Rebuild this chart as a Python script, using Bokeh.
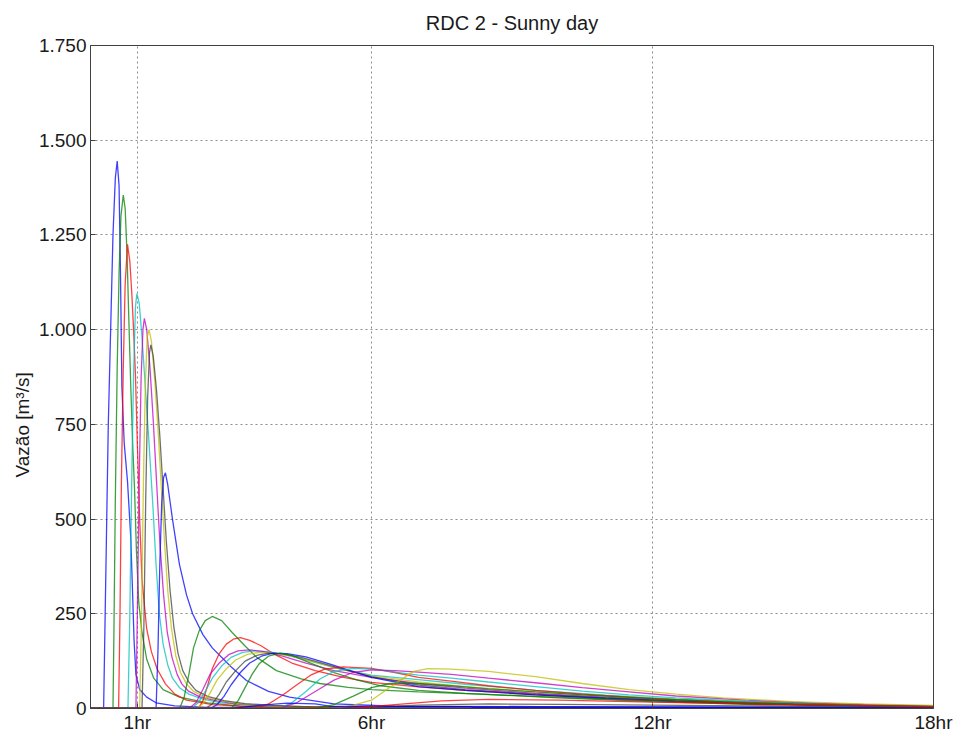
from bokeh.plotting import figure
from bokeh.models import FixedTicker, Range1d, Title
from bokeh.embed import file_html
from bokeh.resources import INLINE

# Outflow hydrographs, (hour, flow in m3/s) pairs, in plotting order
HYD_01 = [(0, 0), (0.28, 0), (0.30, 150), (0.34, 450), (0.38, 750), (0.43, 1000), (0.48, 1250), (0.53, 1400),
          (0.57, 1445), (0.61, 1380), (0.64, 1150), (0.67, 850), (0.72, 700), (0.79, 600), (0.86, 450), (0.90, 300),
          (0.93, 180), (0.97, 90), (1.05, 50), (1.2, 30), (1.4, 15), (1.8, 7), (2.5, 3), (6, 2), (18, 1)]
HYD_02 = [(0, 0), (0.48, 0), (0.50, 200), (0.53, 550), (0.57, 900), (0.61, 1150), (0.65, 1300), (0.70, 1355),
          (0.74, 1320), (0.78, 1200), (0.82, 1020), (0.86, 850), (0.90, 700), (0.94, 580), (0.98, 420), (1.03, 280),
          (1.1, 200), (1.2, 130), (1.35, 80), (1.55, 50), (1.9, 30), (2.5, 15), (3.2, 6), (8, 3), (18, 2)]
HYD_03 = [(0, 0), (0.60, 0), (0.63, 250), (0.66, 600), (0.70, 900), (0.74, 1120), (0.79, 1225), (0.84, 1180),
          (0.88, 1100), (0.92, 1000), (0.96, 880), (1.00, 700), (1.05, 500), (1.10, 340), (1.20, 210), (1.30, 150),
          (1.42, 105), (1.6, 65), (1.8, 38), (2.05, 22), (2.6, 10), (3.4, 5), (9, 3), (18, 2)]
HYD_04 = [(0, 0), (0.80, 0), (0.84, 250), (0.88, 600), (0.92, 880), (0.96, 1060), (0.99, 1095), (1.04, 1070),
          (1.10, 980), (1.17, 850), (1.25, 700), (1.33, 540), (1.40, 380), (1.47, 250), (1.55, 170), (1.65, 115),
          (1.75, 80), (1.9, 55), (2.1, 38), (2.4, 25), (2.8, 15), (3.4, 8), (4.2, 4), (10, 3), (18, 2)]
HYD_05 = [(0, 0), (0.97, 0), (1.00, 250), (1.04, 600), (1.08, 870), (1.12, 1000), (1.15, 1030), (1.20, 1000),
          (1.27, 900), (1.34, 760), (1.41, 600), (1.48, 440), (1.56, 300), (1.64, 200), (1.74, 135), (1.85, 90),
          (1.95, 65), (2.1, 45), (2.35, 30), (2.7, 20), (3.1, 12), (3.7, 7), (4.5, 4), (11, 3), (18, 2)]
HYD_06 = [(0, 0), (1.05, 0), (1.09, 250), (1.13, 600), (1.17, 850), (1.21, 980), (1.25, 1000), (1.30, 970),
          (1.37, 870), (1.44, 740), (1.51, 590), (1.58, 440), (1.65, 310), (1.73, 210), (1.82, 140), (1.92, 95),
          (2.05, 65), (2.2, 45), (2.45, 30), (2.8, 20), (3.2, 12), (3.8, 7), (4.6, 4), (12, 3), (18, 2)]
HYD_07 = [(0, 0), (1.10, 0), (1.14, 220), (1.18, 560), (1.22, 820), (1.26, 940), (1.29, 960), (1.34, 930),
          (1.41, 840), (1.48, 720), (1.55, 580), (1.62, 440), (1.70, 310), (1.78, 215), (1.87, 145), (1.97, 100),
          (2.1, 70), (2.25, 48), (2.5, 32), (2.85, 21), (3.3, 13), (3.9, 8), (4.7, 4), (13, 3), (18, 2)]
HYD_08 = [(0, 0), (1.40, 0), (1.44, 150), (1.48, 380), (1.52, 540), (1.56, 610), (1.60, 622), (1.65, 590),
          (1.75, 500), (1.90, 380), (2.05, 300), (2.18, 250), (2.40, 195), (2.60, 160), (3.00, 110), (3.33, 74),
          (3.8, 45), (4.25, 30), (5.2, 12), (6.5, 6), (9.6, 5), (18, 2)]
HYD_09 = [(0, 0), (1.90, 0), (2.00, 30), (2.10, 90), (2.20, 160), (2.32, 205), (2.45, 232), (2.60, 243),
          (2.80, 232), (3.03, 200), (3.30, 165), (3.55, 135), (3.97, 100), (4.5, 78), (4.9, 66), (5.5, 56),
          (6.0, 50), (7.0, 44), (8.3, 38), (10, 28), (12, 18), (14, 11), (16, 7), (18, 4)]
HYD_10 = [(0, 0), (2.30, 0), (2.40, 20), (2.50, 60), (2.60, 105), (2.75, 145), (2.90, 170), (3.05, 183),
          (3.20, 187), (3.40, 180), (3.65, 165), (3.90, 145), (4.3, 120), (4.8, 100), (5.4, 82), (6.0, 69),
          (7.0, 57), (8.0, 48), (9.5, 36), (11, 26), (12.5, 19), (14.5, 12), (16.5, 7), (18, 4)]
HYD_11 = [(0, 0), (2.15, 0), (2.3, 15), (2.45, 45), (2.6, 80), (2.8, 112), (3.0, 135), (3.25, 148), (3.5, 152),
          (3.8, 150), (4.2, 140), (4.7, 125), (5.3, 105), (6.0, 88), (7.0, 76), (8.0, 64), (9.5, 48), (11, 35),
          (12.5, 25), (14, 18), (16, 11), (18, 6)]
HYD_12 = [(0, 0), (2.10, 0), (2.25, 15), (2.4, 50), (2.55, 90), (2.75, 120), (2.95, 142), (3.15, 152), (3.4, 155),
          (3.7, 150), (4.1, 138), (4.6, 120), (5.2, 100), (6.0, 82), (7.0, 66), (8.0, 54), (9.5, 40), (11, 30),
          (12.5, 22), (14, 15), (16, 9), (18, 5)]
HYD_13 = [(0, 0), (2.25, 0), (2.4, 12), (2.55, 40), (2.7, 75), (2.9, 105), (3.1, 128), (3.35, 143), (3.6, 148),
          (3.9, 146), (4.3, 138), (4.8, 122), (5.4, 102), (6.0, 86), (7.0, 70), (8.0, 58), (9.5, 44), (11, 33),
          (12.5, 24), (14, 17), (16, 10), (18, 6)]
HYD_14 = [(0, 0), (2.45, 0), (2.6, 12), (2.75, 38), (2.9, 70), (3.1, 100), (3.3, 125), (3.55, 140), (3.8, 146),
          (4.1, 144), (4.5, 135), (5.0, 118), (5.5, 100), (6.0, 84), (7.0, 62), (8.0, 50), (9.5, 38), (11, 28),
          (12.5, 20), (14, 14), (16, 9), (18, 5)]
HYD_15 = [(0, 0), (2.55, 0), (2.7, 10), (2.85, 32), (3.0, 62), (3.2, 95), (3.4, 120), (3.65, 138), (3.9, 146),
          (4.2, 145), (4.6, 136), (5.1, 118), (5.6, 98), (6.0, 82), (7.0, 58), (8.0, 48), (9.5, 36), (11, 27),
          (12.5, 19), (14, 13), (16, 8), (18, 5)]
HYD_16 = [(0, 0), (3.0, 0), (3.15, 20), (3.3, 55), (3.45, 90), (3.6, 118), (3.8, 138), (4.05, 146), (4.3, 140),
          (4.7, 120), (5.2, 95), (5.7, 75), (6.2, 60), (7.0, 48), (8.0, 40), (9.5, 32), (11, 25), (12.5, 19),
          (14, 13), (16, 8), (18, 5)]
HYD_17 = [(0, 0), (3.5, 0), (3.8, 12), (4.1, 35), (4.4, 62), (4.7, 88), (5.0, 104), (5.4, 110), (6.0, 106),
          (6.5, 95), (7.0, 82), (7.7, 72), (8.5, 60), (9.5, 48), (10.5, 38), (11.5, 30), (12.5, 23), (14, 15),
          (15.5, 10), (17, 7), (18, 5)]
HYD_18 = [(0, 0), (4.0, 0), (4.3, 15), (4.6, 45), (4.9, 78), (5.2, 98), (5.6, 106), (6.0, 104), (6.5, 96),
          (7.0, 88), (7.7, 80), (8.5, 70), (9.5, 58), (10.5, 46), (11.5, 36), (12.5, 28), (14, 19), (15.5, 12),
          (17, 8), (18, 5)]
HYD_19 = [(0, 0), (4.0, 0), (4.4, 15), (4.8, 45), (5.2, 75), (5.6, 95), (6.0, 102), (6.5, 100), (7.0, 96),
          (7.7, 90), (8.5, 80), (9.5, 68), (10.5, 55), (11.5, 44), (12.5, 33), (14, 22), (15.5, 14), (17, 9),
          (18, 6)]
HYD_20 = [(0, 0), (5.2, 0), (5.6, 8), (6.0, 22), (6.5, 65), (6.9, 98), (7.2, 105), (7.7, 104), (8.5, 98),
          (9.5, 84), (10.5, 66), (11.5, 50), (12.5, 38), (13.5, 28), (15, 18), (16.5, 12), (18, 8)]
HYD_21 = [(0, 0), (5.0, 0), (6.0, 4), (7.0, 9), (8.5, 12), (10, 11), (12, 9), (14, 7), (16, 5), (18, 3)]
HYD_22 = [(0, 0), (3.0, 0), (3.6, 8), (4.2, 14), (4.8, 12), (5.1, 6), (6.5, 5), (8.1, 5), (8.2, 2), (12, 2),
          (18, 1)]
HYD_23 = [(0, 0), (4.8, 0), (5.2, 10), (5.6, 32), (6.0, 55), (6.4, 66), (7.0, 66), (7.7, 60), (8.5, 52),
          (9.5, 44), (10.5, 36), (12, 26), (13.5, 18), (15, 12), (16.5, 8), (18, 5)]
HYD_24 = [(0, 0), (5.5, 0), (6.5, 10), (7.5, 20), (8.5, 24), (10, 22), (12, 17), (14, 12), (16, 8), (18, 5)]

HYDROGRAPHS = [HYD_01, HYD_02, HYD_03, HYD_04, HYD_05, HYD_06, HYD_07, HYD_08, HYD_09, HYD_10, HYD_11, HYD_12,
               HYD_13, HYD_14, HYD_15, HYD_16, HYD_17, HYD_18, HYD_19, HYD_20, HYD_21, HYD_22, HYD_23, HYD_24]

X_TICKS = [1, 6, 12, 18]
X_LABELS = ["1hr", "6hr", "12hr", "18hr"]
Y_TICKS = [0, 250, 500, 750, 1000, 1250, 1500, 1750]
Y_LABELS = ["0", "250", "500", "750", "1.000", "1.250", "1.500", "1.750"]

# classic b, g, r, c, m, y, k line cycle
LINE_CYCLE = ["#0000ff", "#008000", "#ff0000", "#00bfbf", "#bf00bf", "#bfbf00", "#404040"]
FONT = "Liberation Sans"
TEXT_COLOR = "#1a1a1a"

p = figure(width=954, height=735, output_backend="svg", toolbar_location=None,
           x_range=Range1d(0, 18), y_range=Range1d(0, 1750),
           min_border_left=90, min_border_right=21, min_border_top=45, min_border_bottom=27)
p.background_fill_color = "white"
p.border_fill_color = "white"
p.outline_line_color = "#404040"
p.outline_line_width = 1

p.title.text = "RDC 2 - Sunny day"
p.title.align = "center"
p.title.vertical_align = "top"
p.title.text_font = FONT
p.title.text_font_size = "20px"
p.title.text_font_style = "normal"
p.title.text_color = TEXT_COLOR
p.title.standoff = 20

for axis in (p.xaxis, p.yaxis):
    axis.axis_line_color = "#404040"
    axis.major_tick_line_color = "#404040"
    axis.major_tick_in = 5
    axis.major_tick_out = 0
    axis.minor_tick_line_color = None
    axis.major_label_text_font = FONT
    axis.major_label_text_font_size = "19px"
    axis.major_label_text_color = TEXT_COLOR

p.xaxis.ticker = FixedTicker(ticks=X_TICKS)
p.xaxis.major_label_overrides = {t: s for t, s in zip(X_TICKS, X_LABELS)}
p.xaxis.major_label_standoff = 3
p.yaxis.ticker = FixedTicker(ticks=Y_TICKS)
p.yaxis.major_label_overrides = {t: s for t, s in zip(Y_TICKS, Y_LABELS)}
p.yaxis.major_label_standoff = 4

# vertical axis title, anchored from the bottom of the frame and lifted so it sits below mid-height
y_title = Title(text="Vazão [m³/s]", align="left", offset=231, standoff=6,
                text_font=FONT, text_font_size="19px", text_font_style="normal", text_color=TEXT_COLOR)
p.add_layout(y_title, "left")

for grid in (p.xgrid, p.ygrid):
    grid.grid_line_color = "#8c8c8c"
    grid.grid_line_dash = "2 3"
    grid.grid_line_width = 1

for i, series in enumerate(HYDROGRAPHS):
    hours = [pt[0] for pt in series]
    flow = [pt[1] for pt in series]
    p.line(hours, flow, line_color=LINE_CYCLE[i % len(LINE_CYCLE)], line_width=1.3, line_alpha=0.75)

open("out.html", "w").write(file_html(p, INLINE))
